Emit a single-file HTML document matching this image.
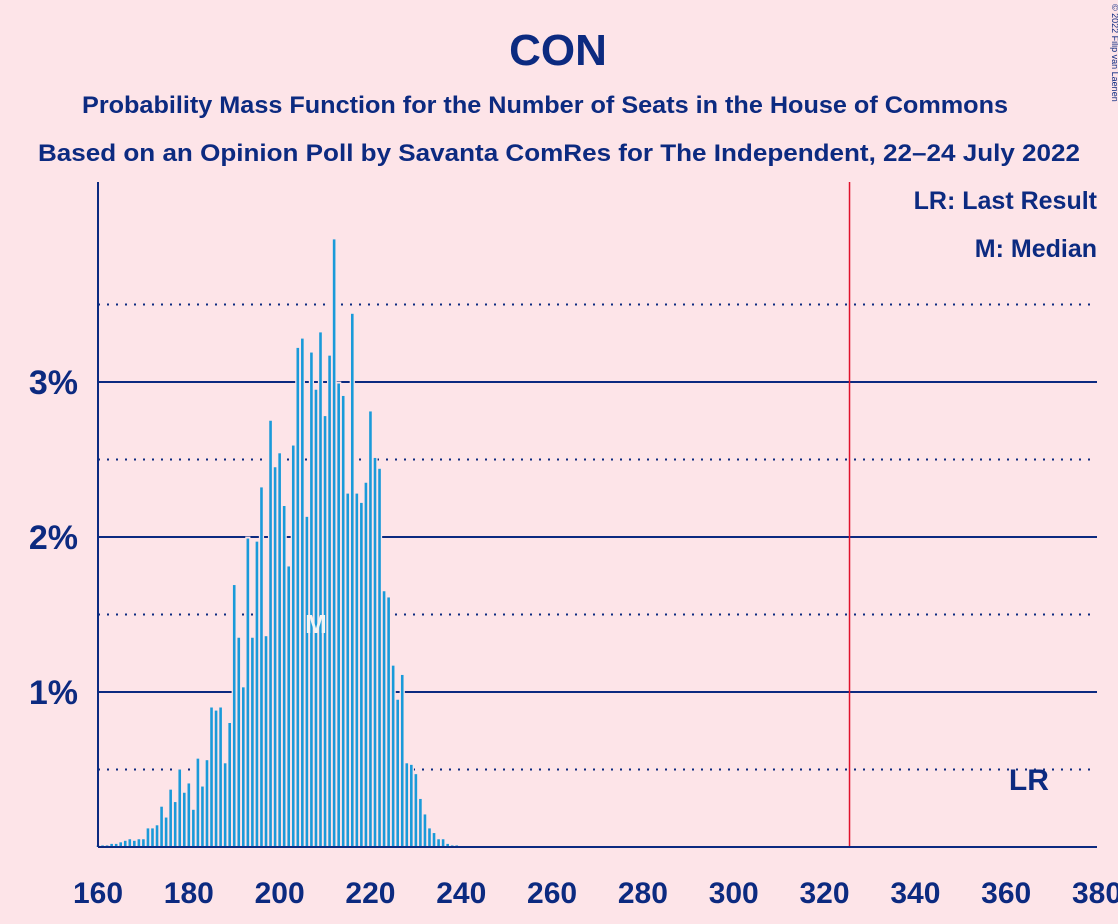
<!DOCTYPE html>
<html><head><meta charset="utf-8"><style>
body{margin:0;background:#fde4e8;}
svg{display:block;font-family:"Liberation Sans",sans-serif;}
</style></head><body>
<svg id="c" width="1118" height="924" xmlns="http://www.w3.org/2000/svg">
<rect width="1118" height="924" fill="#fde4e8"/>
<text x="558" y="65" text-anchor="middle" font-size="44" font-weight="bold" fill="#0c2a80">CON</text>
<text x="545" y="113" text-anchor="middle" font-size="24" font-weight="bold" fill="#0c2a80" textLength="926" lengthAdjust="spacingAndGlyphs">Probability Mass Function for the Number of Seats in the House of Commons</text>
<text x="559" y="161" text-anchor="middle" font-size="24" font-weight="bold" fill="#0c2a80" textLength="1042" lengthAdjust="spacingAndGlyphs">Based on an Opinion Poll by Savanta ComRes for The Independent, 22–24 July 2022</text>
<text x="1112" y="4" font-size="9" fill="#0c2a80" transform="rotate(90 1112 4)" text-anchor="start">© 2022 Filip van Laenen</text>
<g id="grid"></g>
<g id="bars"></g>
<g id="axes"></g>
<text x="1097" y="209" text-anchor="end" font-size="25" font-weight="bold" fill="#0c2a80">LR: Last Result</text>
<text x="1097" y="257" text-anchor="end" font-size="25" font-weight="bold" fill="#0c2a80">M: Median</text>
</svg>
<script>
const seatStart = 160;
const probs = [0.01,0.01,0.01,0.02,0.02,0.03,0.04,0.05,0.04,0.05,0.05,0.12,0.12,0.14,0.26,0.19,0.37,0.29,0.5,0.35,0.41,0.24,0.57,0.39,0.56,0.9,0.88,0.9,0.54,0.8,
1.69,1.35,1.03,1.99,1.35,1.97,2.32,1.36,2.75,2.45,2.54,2.2,1.81,2.59,3.22,3.28,2.13,3.19,2.95,3.32,2.78,3.17,3.92,2.99,2.91,2.28,3.44,2.28,2.22,2.35,2.81,2.51,2.44,1.65,1.61,1.17,0.95,1.11,0.54,0.53,0.47,0.31,0.21,0.12,0.09,0.05,0.05,0.02,0.01,0.01,0.005,0.005,0.004,0.003,0.003,0.002];
const xTicks = [160,180,200,220,240,260,280,300,320,340,360,380];
const yTicks = [1,2,3];
const yMinor = [0.5,1.5,2.5,3.5];
const majority = 325.5;
const lastResult = 365;
const median = 208;
const NS="http://www.w3.org/2000/svg";
const X0=98,X1=1097,Y0=847,PPP=155;
const xs=s=>X0+(s-160)*(X1-X0)/220;
const ys=v=>Y0-v*PPP;
function mk(tag,attrs,parent,txt){const e=document.createElementNS(NS,tag);for(const k in attrs)e.setAttribute(k,attrs[k]);if(txt!==undefined)e.textContent=txt;parent.appendChild(e);return e;}
const g=document.getElementById('grid'),b=document.getElementById('bars'),a=document.getElementById('axes');
yMinor.forEach(v=>{const l=mk('line',{x1:X0,x2:X1,y1:ys(v),y2:ys(v),stroke:'#0c2a80','stroke-width':2,'stroke-dasharray':'2,7'},g);

});
yTicks.forEach(v=>{const l=mk('line',{x1:X0,x2:X1,y1:ys(v),y2:ys(v),stroke:'#0c2a80','stroke-width':2},g);


const t=mk('text',{x:78,y:ys(v)+12,'text-anchor':'end','font-size':34,'font-weight':'bold',fill:'#0c2a80'},a,v+'%');

});
probs.forEach((p,i)=>{const s=seatStart+i;const x=xs(s);
const h=mk('rect',{x:x-2.6,y:ys(p)-2,width:5.2,height:p*PPP+2,fill:'#fde4e8'},b);


const r=mk('rect',{x:x-1.3,y:ys(p),width:2.6,height:p*PPP,fill:'#1a9ad9'},b);

});
const m=mk('text',{x:xs(median),y:633,'text-anchor':'middle','font-size':26,'font-weight':'bold',fill:'#f4f4f4'},b,'M');


const rl=mk('line',{x1:xs(majority),x2:xs(majority),y1:182,y2:Y0,stroke:'#e0102a','stroke-width':1.5},a);


const lr=mk('text',{x:xs(lastResult),y:790,'text-anchor':'middle','font-size':30,'font-weight':'bold',fill:'#0c2a80'},a,'LR');


const ya=mk('line',{x1:X0,x2:X0,y1:182,y2:Y0,stroke:'#0c2a80','stroke-width':2},a);


const xa=mk('line',{x1:X0,x2:X1,y1:Y0,y2:Y0,stroke:'#0c2a80','stroke-width':2},a);


xTicks.forEach(v=>{const t=mk('text',{x:xs(v),y:903,'text-anchor':'middle','font-size':30,'font-weight':'bold',fill:'#0c2a80'},a,v);

});
</script>
</body></html>
